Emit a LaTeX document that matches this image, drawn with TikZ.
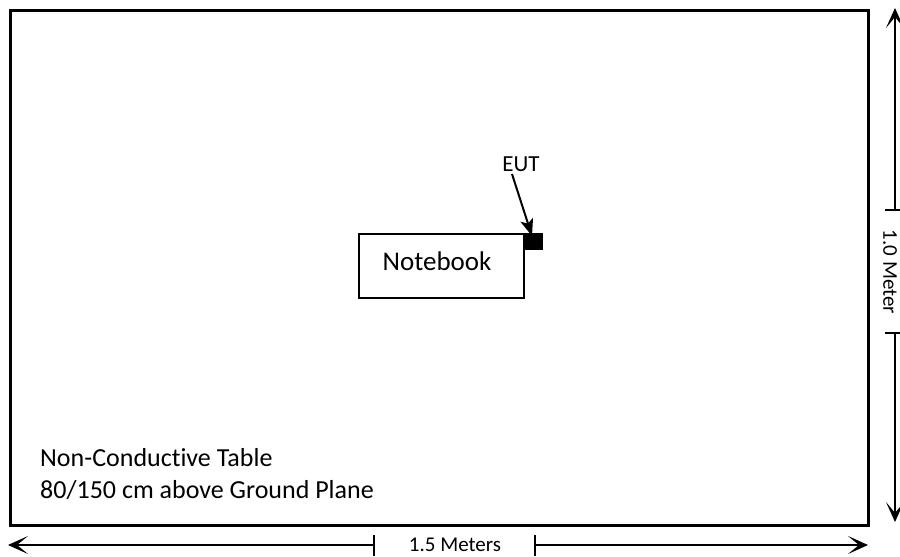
\documentclass[tikz,border=0pt]{standalone}
\usepackage{fontspec}
\setmainfont[Ligatures={NoCommon}]{Carlito}
\usetikzlibrary{arrows.meta}
\begin{document}
\begin{tikzpicture}[x=1pt,y=-1pt,
  dimline/.style={line width=1.3pt,-{Stealth[length=20pt,width=18pt,inset=11pt]}},
  tickline/.style={line width=1.3pt},
  lbl/.style={inner sep=0pt,font=\fontsize{21}{25}\selectfont},
]
\useasboundingbox (0,0) rectangle (900,557);
% table
\draw[line width=3pt] (10,10) rectangle (868,525);
% notebook
\node[draw,line width=1.5pt,minimum width=165pt,minimum height=64pt,anchor=north west,inner sep=0pt] (nb) at (358,233) {};
\node[anchor=base,inner sep=0pt,font=\fontsize{27}{32}\selectfont] (nbt) at (437,270) {Notebook};
\node[fill=black,minimum width=20pt,minimum height=17pt,inner sep=0pt,anchor=north west] (eut) at (523,233) {};
\node[anchor=base,inner sep=0pt,font=\fontsize{23}{27}\selectfont] (eutl) at (521,171) {EUT};
\coordinate (es) at (512,174);
\coordinate (ee) at (532,236);
\draw[line width=2pt,-{Stealth[length=17pt,width=13pt,inset=4pt]}] (es) -- (ee);
% text
\node[anchor=base west,inner sep=0pt,font=\fontsize{26}{30}\selectfont] (t1) at (40,466) {Non-Conductive Table};
\node[anchor=base west,inner sep=0pt,font=\fontsize{26}{30}\selectfont] (t2) at (40,498) {80/150 cm above Ground Plane};
% bottom dimension
\node[lbl] (wl) at (455,545) {1.5 Meters};
\coordinate (bl) at (374,545);
\coordinate (br) at (535,545);
\coordinate (blend) at (8,545);
\coordinate (brend) at (868,545);
\draw[dimline] (bl) -- (blend);
\draw[dimline] (br) -- (brend);
\draw[tickline] (374,535) -- (374,556);
\draw[tickline] (535,535) -- (535,556);
% right dimension
\node[lbl,rotate=-90] (hl) at (890,272) {1.0 Meter};
\coordinate (rt) at (895,210);
\coordinate (rb) at (895,333);
\coordinate (rtend) at (895,8);
\coordinate (rbend) at (895,522);
\draw[dimline] (rt) -- (rtend);
\draw[dimline] (rb) -- (rbend);
\draw[tickline] (885,210) -- (905,210);
\draw[tickline] (885,333) -- (905,333);
\end{tikzpicture}
\end{document}
